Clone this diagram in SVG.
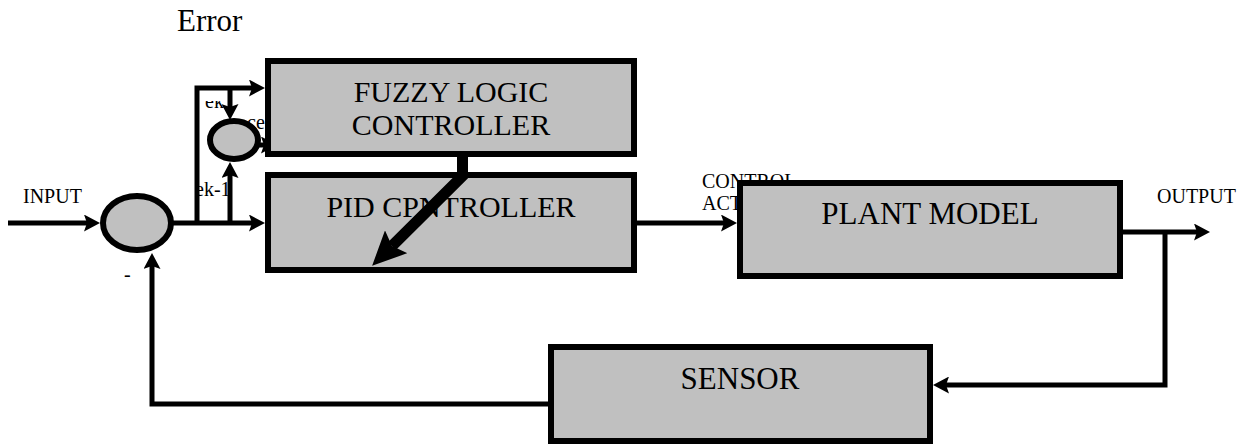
<svg xmlns="http://www.w3.org/2000/svg" width="1249" height="444" viewBox="0 0 1249 444">
<style>
.box{fill:#c0c0c0;stroke:#000;stroke-width:6}
.sum{fill:#c0c0c0;stroke:#000;stroke-width:6}
.ln{fill:none;stroke:#000;stroke-width:5;stroke-linejoin:miter;marker-end:url(#ah)}
.t{font-family:"Liberation Serif","Times New Roman",serif;fill:#000}
.big{font-size:30px}
.lg{font-size:31px}
.sm{font-size:20px}
.xs{font-size:20px}
</style>
<defs>
<marker id="ah" viewBox="0 0 16 17" markerWidth="16" markerHeight="17" markerUnits="userSpaceOnUse" refX="3" refY="8.5" orient="auto">
<path d="M0,0 L16,8.5 L0,17 L3,8.5 Z" fill="#000"/>
</marker>
<marker id="bh" viewBox="0 0 34 32" markerWidth="34" markerHeight="32" markerUnits="userSpaceOnUse" refX="6" refY="16" orient="auto">
<path d="M0,0 L34,16 L0,32 L6,16 Z" fill="#000"/>
</marker>
<clipPath id="ekclip"><rect x="198" y="101" width="40" height="20"/></clipPath>
</defs>

<text class="t lg" x="177" y="31">Error</text>
<text class="t sm" x="23" y="203">INPUT</text>
<text class="t sm" x="1157" y="203">OUTPUT</text>
<text class="t sm" x="702" y="188">CONTROL</text>
<text class="t sm" x="702" y="210">ACT</text>
<text class="t xs" x="205" y="108" clip-path="url(#ekclip)">ek</text>
<text class="t xs" x="247" y="129">ce</text>
<text class="t xs" x="195" y="196">ek-1</text>
<text class="t xs" x="124" y="281">-</text>

<g id="connectors">
<path class="ln" d="M8,223 H87"/>
<path class="ln" d="M171,223 H252"/>
<path class="ln" d="M197,223 V88 H252"/>
<path class="ln" d="M230,88 V107"/>
<path class="ln" d="M230,223 V175"/>
<path class="ln" d="M257,145 H264"/>
<path class="ln" d="M637,223 H724"/>
<path class="ln" d="M1120,232 H1197"/>
<path class="ln" d="M1165,232 V385 H946"/>
<path class="ln" d="M548,404 H152 V266"/>
</g>

<g id="sum1"><ellipse class="sum" cx="137" cy="223" rx="34" ry="27"/></g>
<g id="sum2"><ellipse class="sum" cx="234" cy="140" rx="24" ry="19"/></g>

<g id="fuzzy">
<rect class="box" x="268" y="61" width="366" height="93"/>
<text class="t big" x="451" y="102" text-anchor="middle">FUZZY LOGIC</text>
<text class="t big" x="451" y="135" text-anchor="middle">CONTROLLER</text>
</g>

<g id="pid">
<rect class="box" x="268" y="175" width="366" height="95"/>
<text class="t big" x="451" y="217" text-anchor="middle">PID CPNTROLLER</text>
</g>

<g id="plant">
<rect class="box" x="740" y="183" width="380" height="93"/>
<text class="t lg" x="930" y="224" text-anchor="middle">PLANT MODEL</text>
</g>

<g id="sensor">
<rect class="box" x="551" y="347" width="379" height="94"/>
<text class="t lg" x="740" y="389" text-anchor="middle">SENSOR</text>
</g>

<g id="fuzzy-to-pid">
<path d="M462.5,154 V176 L392,246" fill="none" stroke="#000" stroke-width="11" stroke-linejoin="miter" marker-end="url(#bh)"/>
</g>
</svg>
